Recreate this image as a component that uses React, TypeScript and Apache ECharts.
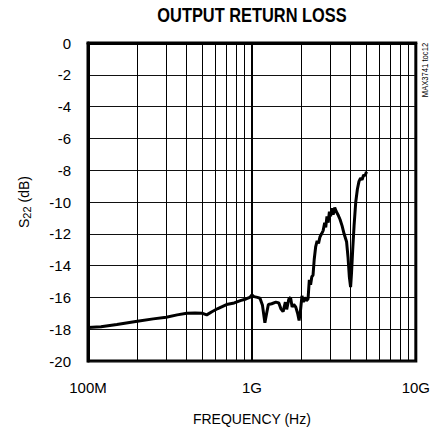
import React, { useEffect, useRef } from "react";
import * as echarts from "echarts";

const freqGHz = [
  0.1, 0.12, 0.15, 0.2, 0.25, 0.3, 0.35, 0.4, 0.45, 0.5, 0.53, 0.57, 0.62, 0.7, 0.78, 0.85, 0.92, 0.97,
  1.0, 1.03, 1.08, 1.12, 1.16, 1.2, 1.23, 1.26, 1.32, 1.4, 1.46, 1.5, 1.55, 1.6, 1.63, 1.68, 1.72, 1.76,
  1.8, 1.85, 1.9, 1.94, 1.98, 2.02, 2.06, 2.1, 2.15, 2.2, 2.24, 2.28, 2.32, 2.36, 2.4, 2.45, 2.5, 2.55,
  2.6, 2.66, 2.72, 2.78, 2.82, 2.87, 2.92, 2.97, 3.02, 3.08, 3.13, 3.2, 3.27, 3.35, 3.45, 3.55, 3.65,
  3.78, 3.86, 3.93, 4.0, 4.05, 4.12, 4.2, 4.3, 4.4, 4.5, 4.6, 4.7, 4.8, 4.9, 5.0,
];
const s22dB = [
  -17.9, -17.85, -17.7, -17.5, -17.35, -17.25, -17.1, -17.0, -16.98, -17.0, -17.1, -16.9, -16.7, -16.45, -16.35, -16.2, -16.1, -16.0,
  -15.85, -15.95, -16.0, -16.05, -16.5, -17.6, -17.0, -16.45, -16.4, -16.3, -16.35, -16.7, -16.9, -16.3, -16.75, -16.1, -16.0, -16.6,
  -16.45, -16.6, -17.0, -17.45, -16.8, -15.9, -16.3, -16.0, -16.2, -16.1, -14.9, -15.2, -14.7, -14.6, -13.6, -12.8, -12.45, -12.6,
  -12.2, -12.0, -11.8, -11.3, -11.6, -10.9, -11.3, -10.6, -10.9, -10.4, -10.8, -10.35, -10.6, -10.8, -11.1, -11.5, -12.0,
  -12.5, -13.5, -14.7, -15.35, -14.5, -13.0, -11.5, -10.0, -9.2, -8.7, -8.5, -8.6, -8.3, -8.35, -8.1,
];

const decadeTicks = [1e8, 1e9, 1e10];
const decadeLabels = ["100M", "1G", "10G"];
const minorGridFreqs = [
  2e8, 3e8, 4e8, 5e8, 6e8, 7e8, 8e8, 9e8,
  2e9, 3e9, 4e9, 5e9, 6e9, 7e9, 8e9, 9e9,
];

const FONT = "'Liberation Sans', Arial, sans-serif";

export default function App() {
  const ref = useRef<HTMLDivElement>(null);
  useEffect(() => {
    if (!ref.current) return;
    const chart = echarts.init(ref.current, null, { renderer: "svg" });
    const data = freqGHz.map((f, i) => [f * 1e9, s22dB[i]]);
    chart.setOption({
      animation: false,
      backgroundColor: "#fff",
      grid: {
        left: 88,
        right: 17,
        top: 43,
        bottom: 61,
        show: true,
        borderColor: "#000",
        borderWidth: 3,
        backgroundColor: "transparent",
      },
      graphic: [
        {
          type: "text",
          x: 252,
          y: 15,
          scaleX: 0.82,
          scaleY: 1.05,
          style: {
            text: "OUTPUT RETURN LOSS",
            font: "bold 20px " + FONT,
            fill: "#000",
            align: "center",
            verticalAlign: "middle",
          },
        },
        {
          type: "text",
          x: 425,
          y: 70,
          rotation: Math.PI / 2,
          scaleX: 0.85,
          style: {
            text: "MAX3741 toc12",
            font: "9px " + FONT,
            fill: "#000",
            align: "center",
            verticalAlign: "middle",
          },
        },
      ],
      xAxis: {
        type: "log",
        logBase: 10,
        min: 1e8,
        max: 1e10,
        name: "FREQUENCY (Hz)",
        nameLocation: "middle",
        nameGap: 51,
        nameTextStyle: { fontFamily: FONT, fontSize: 14, color: "#000" },
        axisLine: { show: true, lineStyle: { color: "#000", width: 3 } },
        axisTick: { show: false },
        axisLabel: {
          margin: 19,
          fontFamily: FONT,
          fontSize: 15,
          color: "#000",
          formatter: (v: number) => {
            const i = decadeTicks.findIndex((t) => Math.abs(Math.log10(t) - Math.log10(v)) < 1e-6);
            return i >= 0 ? decadeLabels[i] : "";
          },
        },
        splitLine: { show: true, lineStyle: { color: "#000", width: 2 } },
      },
      yAxis: {
        type: "value",
        min: -20,
        max: 0,
        interval: 2,
        name: "S{sub|22} (dB)",
        nameLocation: "middle",
        nameGap: 56,
        nameRotate: 90,
        nameTextStyle: {
          fontFamily: FONT,
          fontSize: 14,
          color: "#000",
          rich: {
            sub: { fontFamily: FONT, fontSize: 11, color: "#000", verticalAlign: "bottom", padding: [6, 0, 0, 0] },
          },
        },
        axisLine: { show: true, lineStyle: { color: "#000", width: 3 } },
        axisTick: { show: false },
        axisLabel: { margin: 17, fontFamily: FONT, fontSize: 15, color: "#000" },
        splitLine: { show: true, lineStyle: { color: "#111", width: 1 } },
      },
      series: [
        {
          type: "line",
          data,
          showSymbol: false,
          symbol: "none",
          lineStyle: { color: "#000", width: 3 },
          z: 5,
          markLine: {
            silent: true,
            symbol: ["none", "none"],
            label: { show: false },
            lineStyle: { color: "#000", width: 1, type: "solid" },
            z: 1,
            data: minorGridFreqs.map((f) => ({ xAxis: f })),
          },
        },
      ],
    });
    return () => chart.dispose();
  }, []);
  return (
    <div
      ref={ref}
      style={{ position: "fixed", left: 0, top: 0, width: 433, height: 431 }}
    />
  );
}
